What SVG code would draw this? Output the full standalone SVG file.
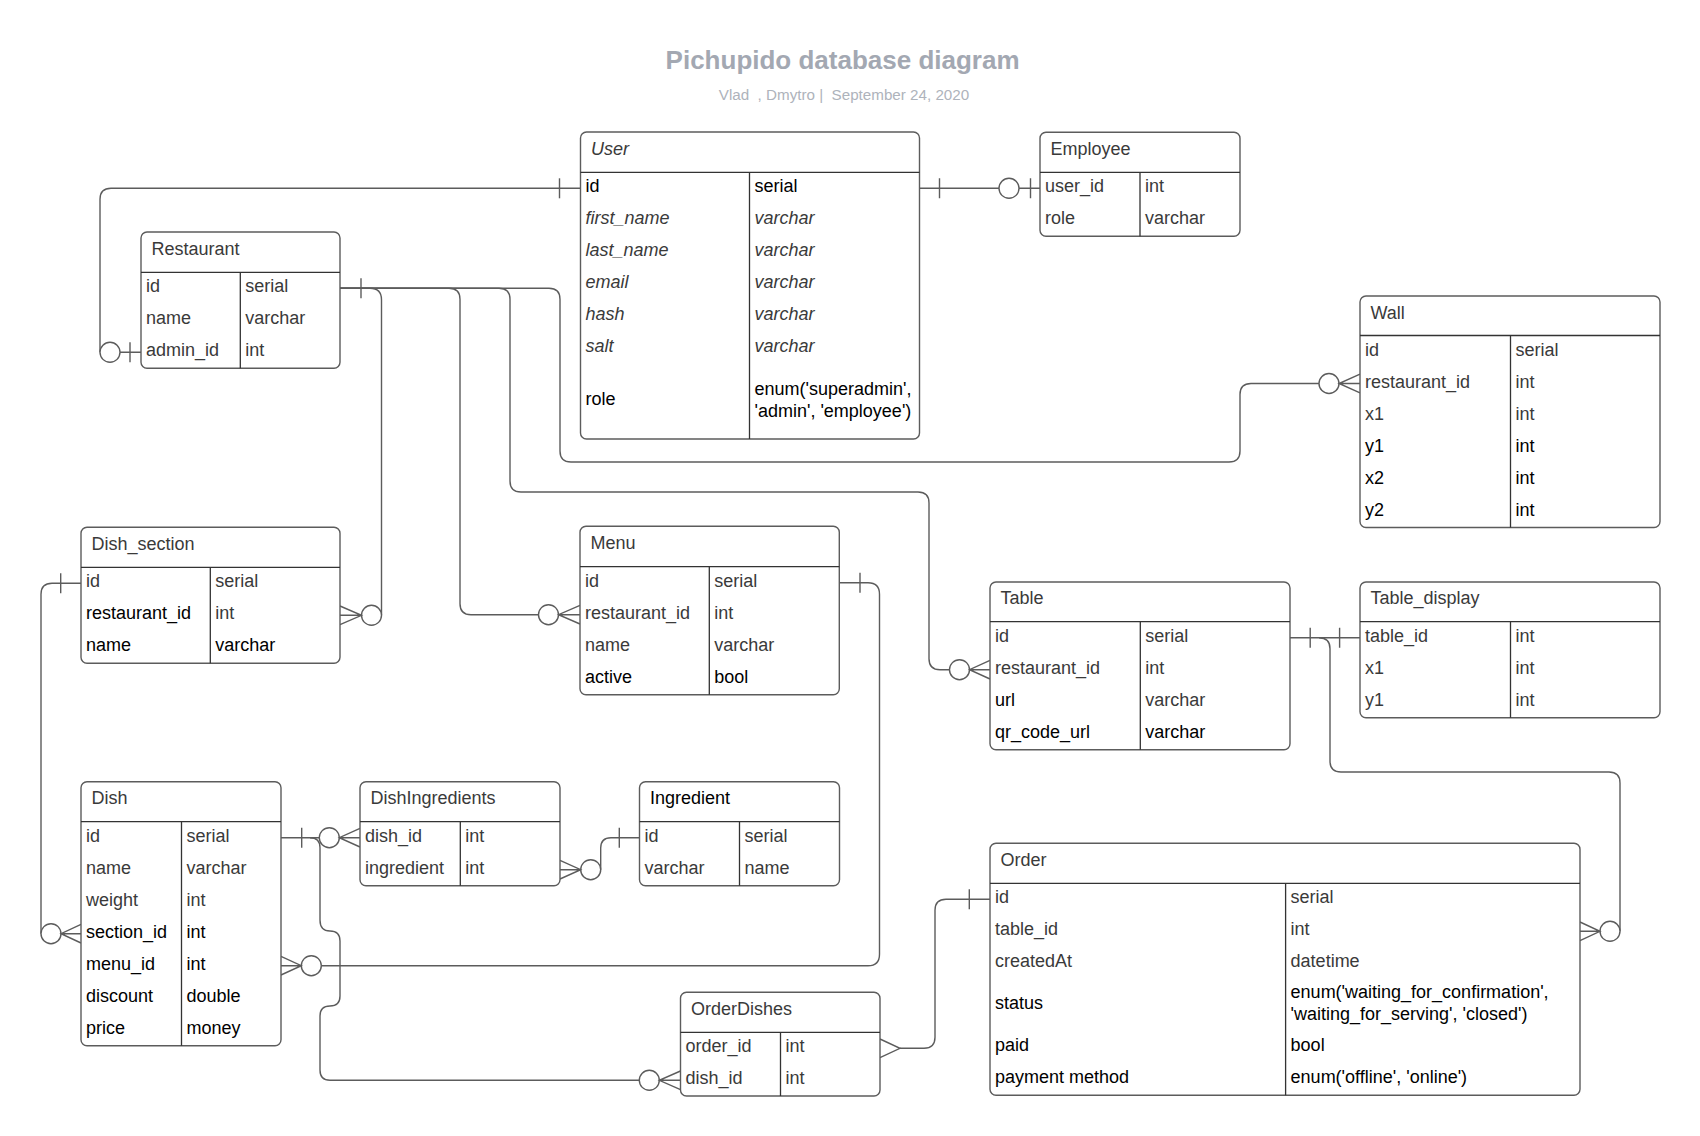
<svg xmlns="http://www.w3.org/2000/svg" width="1700" height="1136" viewBox="0 0 1700 1136">
<style>
.box{fill:#fff;stroke:#5c5c5c;stroke-width:1.4}
.sep{stroke:#333;stroke-width:1.3;fill:none}
.ln{stroke:#5c5c5c;stroke-width:1.4;fill:none}
.ci{fill:#fff;stroke:#5c5c5c;stroke-width:1.4}
text{font-family:"Liberation Sans",Arial,sans-serif;font-size:18px;fill:#3a3a3a}
.k{fill:#000}
.i{font-style:italic}
.title{font-size:26px;font-weight:bold;fill:#a3a8b2}
.sub{font-size:15.2px;fill:#aeb3bb;white-space:pre}
</style>
<rect width="1700" height="1136" fill="#fff"/>
<text class="title" x="842.6" y="69" text-anchor="middle">Pichupido database diagram</text>
<text class="sub" x="844" y="100" text-anchor="middle" xml:space="preserve">Vlad  , Dmytro |  September 24, 2020</text>

<g id="connectors">
<!-- User.id -> Restaurant.admin_id -->
<path class="ln" d="M580.5,188.3 H111 Q100,188.3 100,199.3 V352.3"/>
<path class="ln" d="M559.5,178.3 V198.3"/>
<circle class="ci" cx="110" cy="352.3" r="10"/>
<path class="ln" d="M120,352.3 H141 M130,342.3 V362.3"/>
<!-- User.id -> Employee.user_id -->
<path class="ln" d="M919.5,188.3 H999 M939.5,178.3 V198.3"/>
<circle class="ci" cx="1009" cy="188.3" r="10"/>
<path class="ln" d="M1019,188.3 H1040 M1030.5,178.3 V198.3"/>
<!-- Restaurant.id branches -->
<path class="ln" d="M340,288.3 H370 Q381.5,288.3 381.5,299.8 V615.3"/>
<path class="ln" d="M361,278.3 V298.3"/>
<circle class="ci" cx="371.5" cy="615.3" r="10"/>
<path class="ln" d="M340,606 L361.5,615.3 L340,624.6 M340,615.3 H361.5"/>
<path class="ln" d="M340,288.3 H449 Q460,288.3 460,299.3 V603.7 Q460,614.7 471,614.7 H538.5"/>
<circle class="ci" cx="548.5" cy="614.7" r="10"/>
<path class="ln" d="M580,605.4 L558.5,614.7 L580,624 M580,614.7 H558.5"/>
<path class="ln" d="M340,288.3 H499 Q510,288.3 510,299.3 V481 Q510,492 521,492 H918 Q929,492 929,503 V658.7 Q929,669.7 940,669.7 H949.5"/>
<circle class="ci" cx="959.5" cy="669.7" r="10"/>
<path class="ln" d="M990,660.4 L969.5,669.7 L990,679 M990,669.7 H969.5"/>
<path class="ln" d="M340,288.3 H549 Q560,288.3 560,299.3 V451 Q560,462 571,462 H1229 Q1240,462 1240,451 V394.5 Q1240,383.5 1251,383.5 H1319"/>
<circle class="ci" cx="1329" cy="383.5" r="10"/>
<path class="ln" d="M1360,374.2 L1339,383.5 L1360,392.8 M1360,383.5 H1339"/>
<!-- Dish_section.id -> Dish.section_id -->
<path class="ln" d="M81,583.3 H52 Q41,583.3 41,594.3 V933.7"/>
<path class="ln" d="M60.7,573.3 V593.3"/>
<circle class="ci" cx="51" cy="933.7" r="10"/>
<path class="ln" d="M81,924.4 L61,933.7 L81,943 M81,933.7 H61"/>
<!-- Menu.id -> Dish.menu_id -->
<path class="ln" d="M839.3,582.7 H868 Q879.5,582.7 879.5,594.2 V954.2 Q879.5,965.7 868,965.7 H321.3"/>
<path class="ln" d="M860,572.7 V592.7"/>
<circle class="ci" cx="311.3" cy="965.7" r="10"/>
<path class="ln" d="M281,956.4 L301.3,965.7 L281,975 M281,965.7 H301.3"/>
<!-- Dish.id -> DishIngredients.dish_id -->
<path class="ln" d="M281,837.7 H319.3 M301.7,827.7 V847.7"/>
<circle class="ci" cx="329.3" cy="837.7" r="10"/>
<path class="ln" d="M360,828.4 L339.3,837.7 L360,847 M360,837.7 H339.3"/>
<!-- Dish.id -> OrderDishes.dish_id -->
<path class="ln" d="M310,837.7 Q320,837.7 320,847.7 V920 Q320,931 330,931 Q340,931 340,941 V996 Q340,1006 330,1006 Q320,1006 320,1016 V1070 Q320,1080.3 330,1080.3 H639.3"/>
<circle class="ci" cx="649.3" cy="1080.3" r="10"/>
<path class="ln" d="M680.5,1071 L659.3,1080.3 L680.5,1089.6 M680.5,1080.3 H659.3"/>
<!-- DishIngredients.ingredient -> Ingredient.id -->
<path class="ln" d="M639.5,837.7 H611 Q600.7,837.7 600.7,848 V869.7"/>
<path class="ln" d="M619.3,827.7 V847.7"/>
<circle class="ci" cx="590.7" cy="869.7" r="10"/>
<path class="ln" d="M560,860.4 L580.7,869.7 L560,879 M560,869.7 H580.7"/>
<!-- Table.id -> Table_display.table_id -->
<path class="ln" d="M1290,637.7 H1360 M1310.2,627.7 V647.7 M1339.6,627.7 V647.7"/>
<!-- Table.id -> Order.table_id -->
<path class="ln" d="M1319,637.7 Q1330,637.7 1330,648.7 V761 Q1330,772 1341,772 H1609 Q1620,772 1620,783 V931.3"/>
<circle class="ci" cx="1610" cy="931.3" r="10"/>
<path class="ln" d="M1580,922 L1600,931.3 L1580,940.6 M1580,931.3 H1600"/>
<!-- Order.id -> OrderDishes.order_id -->
<path class="ln" d="M990,899.3 H946 Q935,899.3 935,910.3 V1037.3 Q935,1048.3 924,1048.3 H900"/>
<path class="ln" d="M969.3,889.3 V909.3"/>
<path class="ln" d="M880,1039 L900,1048.3 L880,1057.6"/>
</g>

<g id="User">
<rect class="box" x="580.5" y="132" width="339" height="307" rx="6"/>
<path class="sep" d="M580.5,172.3 H919.5 M749.5,172.3 V439"/>
<text class="i" x="591" y="155">User</text>
<text class="k" x="585.5" y="192.3">id</text><text class="k" x="754.5" y="192.3">serial</text>
<text class="i" x="585.5" y="224.3">first_name</text><text class="i" x="754.5" y="224.3">varchar</text>
<text class="i" x="585.5" y="256.3">last_name</text><text class="i" x="754.5" y="256.3">varchar</text>
<text class="i" x="585.5" y="288.3">email</text><text class="i" x="754.5" y="288.3">varchar</text>
<text class="i" x="585.5" y="320.3">hash</text><text class="i" x="754.5" y="320.3">varchar</text>
<text class="i" x="585.5" y="352.3">salt</text><text class="i" x="754.5" y="352.3">varchar</text>
<text class="k" x="585.5" y="405">role</text>
<text class="k" x="754.5" y="394.5">enum('superadmin',</text>
<text class="k" x="754.5" y="416.5">'admin', 'employee')</text>
</g>

<g id="Employee">
<rect class="box" x="1040" y="132.3" width="200" height="104" rx="6"/>
<path class="sep" d="M1040,172.3 H1240 M1140,172.3 V236.3"/>
<text x="1050.5" y="155">Employee</text>
<text x="1045" y="192.3">user_id</text><text x="1145" y="192.3">int</text>
<text x="1045" y="224.3">role</text><text x="1145" y="224.3">varchar</text>
</g>

<g id="Restaurant">
<rect class="box" x="141" y="232" width="199" height="136.3" rx="6"/>
<path class="sep" d="M141,272.3 H340 M240.3,272.3 V368.3"/>
<text x="151.5" y="254.8">Restaurant</text>
<text x="146" y="292.3">id</text><text x="245.3" y="292.3">serial</text>
<text x="146" y="324.3">name</text><text x="245.3" y="324.3">varchar</text>
<text x="146" y="356.3">admin_id</text><text x="245.3" y="356.3">int</text>
</g>

<g id="Wall">
<rect class="box" x="1360" y="296" width="300" height="231.5" rx="6"/>
<path class="sep" d="M1360,335.5 H1660 M1510.5,335.5 V527.5"/>
<text x="1370.5" y="318.5">Wall</text>
<text x="1365" y="355.5">id</text><text x="1515.5" y="355.5">serial</text>
<text x="1365" y="387.5">restaurant_id</text><text x="1515.5" y="387.5">int</text>
<text x="1365" y="419.5">x1</text><text x="1515.5" y="419.5">int</text>
<text class="k" x="1365" y="451.5">y1</text><text class="k" x="1515.5" y="451.5">int</text>
<text class="k" x="1365" y="483.5">x2</text><text class="k" x="1515.5" y="483.5">int</text>
<text class="k" x="1365" y="515.5">y2</text><text class="k" x="1515.5" y="515.5">int</text>
</g>

<g id="Dish_section">
<rect class="box" x="81" y="527.3" width="259" height="136" rx="6"/>
<path class="sep" d="M81,567.3 H340 M210.3,567.3 V663.3"/>
<text x="91.5" y="550">Dish_section</text>
<text x="86" y="587.3">id</text><text x="215.3" y="587.3">serial</text>
<text class="k" x="86" y="619.3">restaurant_id</text><text x="215.3" y="619.3">int</text>
<text class="k" x="86" y="651.3">name</text><text class="k" x="215.3" y="651.3">varchar</text>
</g>

<g id="Menu">
<rect class="box" x="580" y="526.3" width="259.3" height="168.4" rx="6"/>
<path class="sep" d="M580,566.7 H839.3 M709.3,566.7 V694.7"/>
<text x="590.5" y="549.2">Menu</text>
<text x="585" y="586.7">id</text><text x="714.3" y="586.7">serial</text>
<text x="585" y="618.7">restaurant_id</text><text x="714.3" y="618.7">int</text>
<text x="585" y="650.7">name</text><text x="714.3" y="650.7">varchar</text>
<text class="k" x="585" y="682.7">active</text><text class="k" x="714.3" y="682.7">bool</text>
</g>

<g id="Table">
<rect class="box" x="990" y="582" width="300" height="167.7" rx="6"/>
<path class="sep" d="M990,621.7 H1290 M1140.3,621.7 V749.7"/>
<text x="1000.5" y="604.4">Table</text>
<text x="995" y="641.7">id</text><text x="1145.3" y="641.7">serial</text>
<text x="995" y="673.7">restaurant_id</text><text x="1145.3" y="673.7">int</text>
<text class="k" x="995" y="705.7">url</text><text x="1145.3" y="705.7">varchar</text>
<text class="k" x="995" y="737.7">qr_code_url</text><text class="k" x="1145.3" y="737.7">varchar</text>
</g>

<g id="Table_display">
<rect class="box" x="1360" y="582" width="300" height="135.7" rx="6"/>
<path class="sep" d="M1360,621.7 H1660 M1510.5,621.7 V717.7"/>
<text x="1370.5" y="604.4">Table_display</text>
<text x="1365" y="641.7">table_id</text><text x="1515.5" y="641.7">int</text>
<text x="1365" y="673.7">x1</text><text x="1515.5" y="673.7">int</text>
<text x="1365" y="705.7">y1</text><text x="1515.5" y="705.7">int</text>
</g>

<g id="Dish">
<rect class="box" x="81" y="781.7" width="200" height="264" rx="6"/>
<path class="sep" d="M81,821.7 H281 M181.5,821.7 V1045.7"/>
<text x="91.5" y="804.2">Dish</text>
<text x="86" y="841.7">id</text><text x="186.5" y="841.7">serial</text>
<text x="86" y="873.7">name</text><text x="186.5" y="873.7">varchar</text>
<text x="86" y="905.7">weight</text><text x="186.5" y="905.7">int</text>
<text class="k" x="86" y="937.7">section_id</text><text class="k" x="186.5" y="937.7">int</text>
<text class="k" x="86" y="969.7">menu_id</text><text class="k" x="186.5" y="969.7">int</text>
<text class="k" x="86" y="1001.7">discount</text><text class="k" x="186.5" y="1001.7">double</text>
<text class="k" x="86" y="1033.7">price</text><text class="k" x="186.5" y="1033.7">money</text>
</g>

<g id="DishIngredients">
<rect class="box" x="360" y="781.7" width="200" height="104" rx="6"/>
<path class="sep" d="M360,821.7 H560 M460.3,821.7 V885.7"/>
<text x="370.5" y="804.2">DishIngredients</text>
<text x="365" y="841.7">dish_id</text><text x="465.3" y="841.7">int</text>
<text x="365" y="873.7">ingredient</text><text x="465.3" y="873.7">int</text>
</g>

<g id="Ingredient">
<rect class="box" x="639.5" y="781.7" width="200" height="104" rx="6"/>
<path class="sep" d="M639.5,821.7 H839.5 M739.5,821.7 V885.7"/>
<text class="k" x="650" y="804.2">Ingredient</text>
<text x="644.5" y="841.7">id</text><text x="744.5" y="841.7">serial</text>
<text x="644.5" y="873.7">varchar</text><text x="744.5" y="873.7">name</text>
</g>

<g id="Order">
<rect class="box" x="990" y="843.3" width="590" height="252" rx="6"/>
<path class="sep" d="M990,883.3 H1580 M1285.6,883.3 V1095.3"/>
<text x="1000.5" y="865.8">Order</text>
<text x="995" y="903.3">id</text><text x="1290.6" y="903.3">serial</text>
<text x="995" y="935.3">table_id</text><text x="1290.6" y="935.3">int</text>
<text x="995" y="967.3">createdAt</text><text x="1290.6" y="967.3">datetime</text>
<text class="k" x="995" y="1009">status</text>
<text class="k" x="1290.6" y="998">enum('waiting_for_confirmation',</text>
<text class="k" x="1290.6" y="1020">'waiting_for_serving', 'closed')</text>
<text class="k" x="995" y="1051.3">paid</text><text class="k" x="1290.6" y="1051.3">bool</text>
<text class="k" x="995" y="1083.3">payment method</text><text class="k" x="1290.6" y="1083.3">enum('offline', 'online')</text>
</g>

<g id="OrderDishes">
<rect class="box" x="680.5" y="992.3" width="199.5" height="103.7" rx="6"/>
<path class="sep" d="M680.5,1032.3 H880 M780.5,1032.3 V1096"/>
<text x="691" y="1014.8">OrderDishes</text>
<text x="685.5" y="1052.3">order_id</text><text x="785.5" y="1052.3">int</text>
<text x="685.5" y="1084.3">dish_id</text><text x="785.5" y="1084.3">int</text>
</g>
</svg>
